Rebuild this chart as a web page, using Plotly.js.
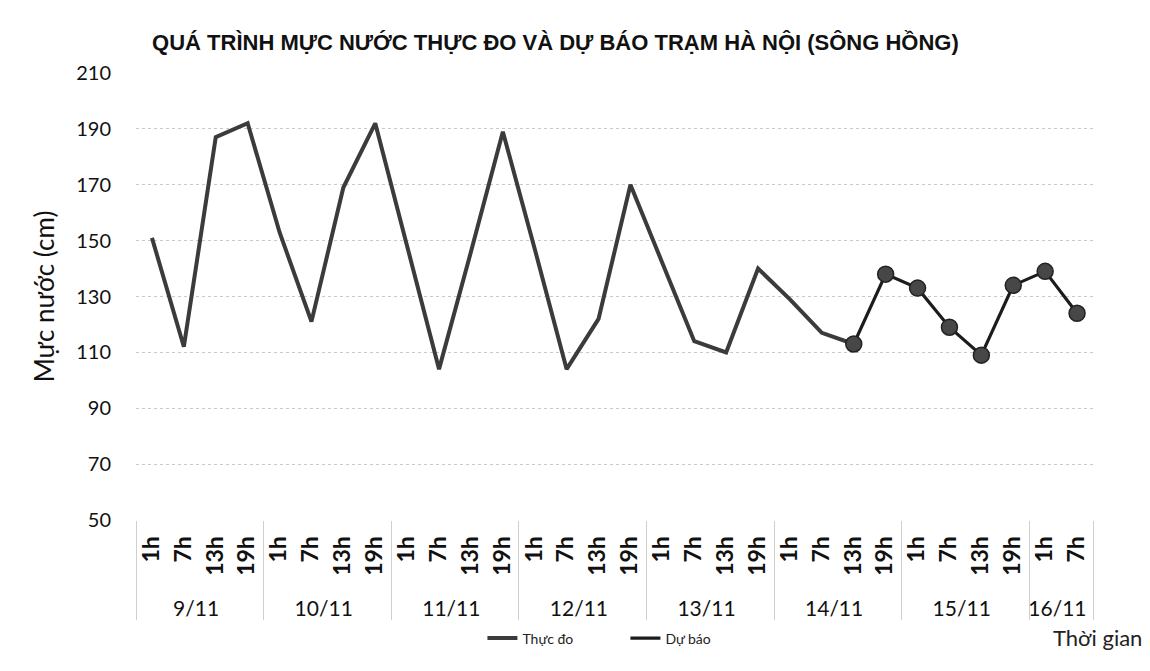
<!DOCTYPE html>
<html>
<head>
<meta charset="utf-8">
<script src="https://cdn.plot.ly/plotly-3.0.1.min.js"></script>
<style>html,body{margin:0;padding:0;background:#fff;}#chart{width:1150px;height:671px;}</style>
</head>
<body>
<div id="chart"></div>
<script>
// Category labels (outer: date, inner: hour)
const dayLabels = [
  "9/11","9/11","9/11","9/11",
  "10/11","10/11","10/11","10/11",
  "11/11","11/11","11/11","11/11",
  "12/11","12/11","12/11","12/11",
  "13/11","13/11","13/11","13/11",
  "14/11","14/11","14/11","14/11",
  "15/11","15/11","15/11","15/11",
  "16/11","16/11"
];
const hourLabels = [
  "1h","7h","13h","19h",
  "1h","7h","13h","19h",
  "1h","7h","13h","19h",
  "1h","7h","13h","19h",
  "1h","7h","13h","19h",
  "1h","7h","13h","19h",
  "1h","7h","13h","19h",
  "1h","7h"
];
// Observed water level (cm)
const thucDo = [
  151,112,187,192,
  153,121,169,192,
  148,104,146,189,
  147,104,122,170,
  142,114,110,140,
  129,117,113,null,
  null,null,null,null,
  null,null
];
// Forecast water level (cm)
const duBao = [
  null,null,null,null,
  null,null,null,null,
  null,null,null,null,
  null,null,null,null,
  null,null,null,null,
  null,null,113,138,
  133,119,109,134,
  139,124
];

// hour labels styled; leading non-breaking spaces leave room before the date row
const xCats = [dayLabels, hourLabels.map(h => "<b><span style='font-size:23px'>\u00a0\u00a0" + h + "</span></b>")];
const baseFont = "Lato, 'Liberation Sans', sans-serif";

const traces = [
  {
    x: xCats, y: thucDo, type: "scatter", mode: "lines", name: "Thực đo",
    line: {color: "#3b3b3b", width: 4}, connectgaps: false
  },
  {
    x: xCats, y: duBao, type: "scatter", mode: "lines", name: "Dự báo",
    line: {color: "#1c1c1c", width: 3.2}, connectgaps: false
  },
  {
    x: xCats, y: duBao, type: "scatter", mode: "markers", name: "Dự báo",
    showlegend: false,
    marker: {size: 16, color: "#474747", line: {color: "#222", width: 1.5}}
  }
];

const layout = {
  width: 1150, height: 671,
  paper_bgcolor: "#ffffff", plot_bgcolor: "#ffffff",
  margin: {l: 136, r: 57, t: 73, b: 151},
  font: {family: baseFont, color: "#111"},
  title: {
    text: "<b>QUÁ TRÌNH MỰC NƯỚC THỰC ĐO VÀ DỰ BÁO TRẠM HÀ NỘI (SÔNG HỒNG)</b>",
    font: {family: "'Liberation Sans Narrow', 'Liberation Sans', sans-serif", size: 22, color: "#111"},
    x: 0.483, xanchor: "center", y: 0.937, yanchor: "middle"
  },
  xaxis: {
    type: "multicategory",
    range: [-0.5, 29.5],
    tickangle: -90,
    tickfont: {family: baseFont, size: 21, color: "#111"},
    showdividers: true, dividercolor: "#cfcfcf", dividerwidth: 1,
    showgrid: false, zeroline: false, showline: false,
    ticks: "", ticklabelstandoff: 11
  },
  yaxis: {
    range: [50, 210], dtick: 20, tick0: 50,
    showgrid: true, gridcolor: "#c8c8c8", griddash: "dot", gridwidth: 1.2,
    zeroline: false, showline: false, ticks: "",
    tickfont: {family: baseFont, size: 20, color: "#111"},
    ticklabelstandoff: 24,
    title: {text: "Mực nước (cm)", font: {family: baseFont, size: 26, color: "#111"}, standoff: 14}
  },
  legend: {
    orientation: "h", x: 0.362, xanchor: "left", y: -0.265, yanchor: "middle",
    entrywidth: 98,
    font: {family: baseFont, size: 14, color: "#222"},
    bgcolor: "rgba(0,0,0,0)"
  },
  annotations: [
    {text: "Thời gian", xref: "paper", yref: "paper", x: 1.053, y: -0.262,
     xanchor: "right", yanchor: "middle", showarrow: false,
     font: {family: baseFont, size: 22, color: "#222"}}
  ]
};

Plotly.newPlot("chart", traces, layout, {displayModeBar: false, responsive: false});
</script>
</body>
</html>
